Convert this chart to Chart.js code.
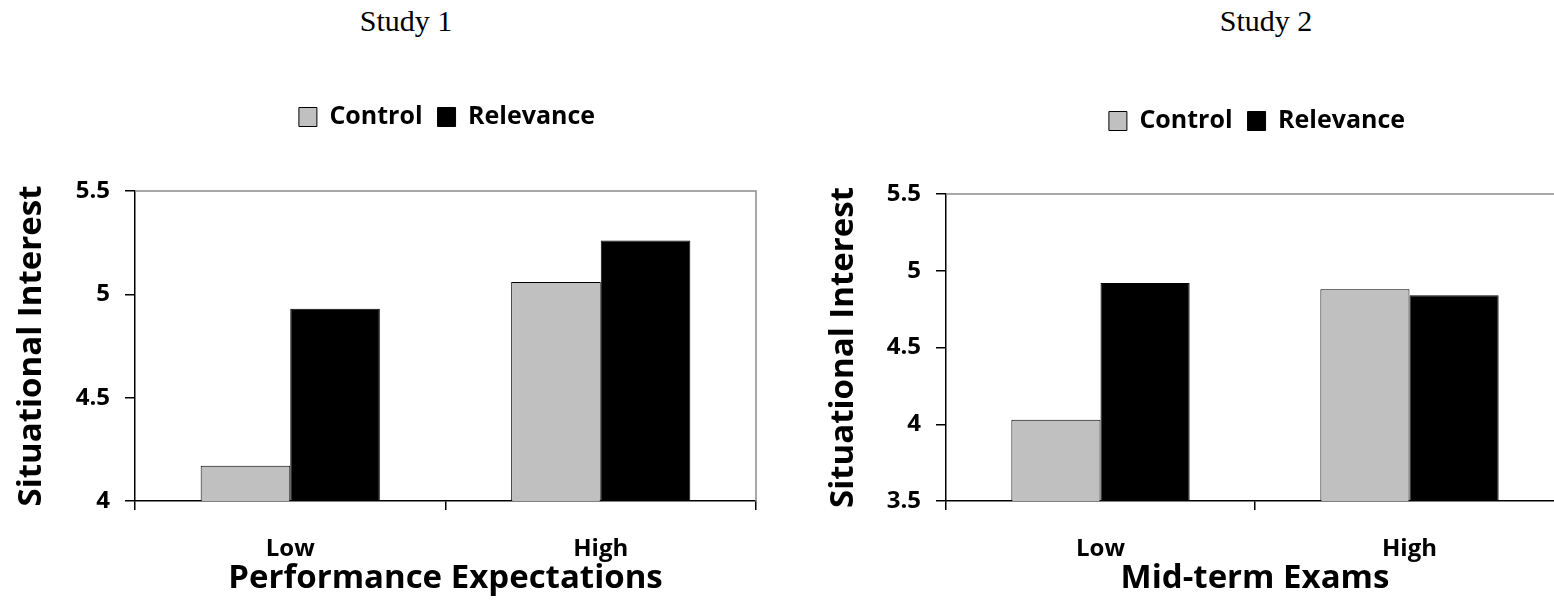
<!DOCTYPE html>
<html>
<head>
<meta charset="utf-8">
<script src="https://cdn.jsdelivr.net/npm/chart.js@4/dist/chart.umd.min.js"></script>
<style>
    html, body { margin: 0; padding: 0; background: #fff; overflow: hidden; width: 1554px; height: 606px; }
    .heading { position: absolute; top: 4px; font-family: "Liberation Serif", serif; font-size: 30px; color: #000; transform: translateX(-50%); white-space: nowrap; }
    .box { position: absolute; top: 0; height: 606px; }
</style>
</head>
<body>
<div class="heading" style="left:406px">Study 1</div>
<div class="heading" style="left:1266px">Study 2</div>
<div class="box" style="left:0; width:780px"><canvas id="chart1"></canvas></div>
<div class="box" style="left:780px; width:786px"><canvas id="chart2"></canvas></div>
<script>
// groups on the x axis
const categories = ['Low', 'High'];
const seriesNames = ['Control', 'Relevance'];

// Study 1 - performance expectations
const study1Control = [4.17, 5.06];
const study1Relevance = [4.93, 5.26];
const study1YRange = [4, 5.5];

// Study 2 - mid-term exams
const study2Control = [4.03, 4.88];
const study2Relevance = [4.92, 4.84];
const study2YRange = [3.5, 5.5];

const yStep = 0.5;

const FONT = '"Open Sans", "Liberation Sans", sans-serif';

// moves the legend to a fixed spot after layout
const legendSpot = {
    id: 'legendSpot',
    afterLayout(chart, args, opts) {
        let lg = chart.legend;
        if (!lg) return;
        let w = lg.right - lg.left;
        let h = lg.bottom - lg.top;
        let pad = chart.options.plugins.legend.labels.padding;
        let itemH = chart.options.plugins.legend.labels.font.size;
        lg.left = opts.cx - w / 2;
        lg.right = lg.left + w;
        lg.top = opts.cy - pad - itemH / 2;
        lg.bottom = lg.top + h;
    }
};

// gray frame on top and right of the plot area
const plotFrame = {
    id: 'plotFrame',
    beforeDatasetsDraw(chart) {
        let a = chart.chartArea;
        let ctx = chart.ctx;
        ctx.save();
        ctx.strokeStyle = '#8c8c8c';
        ctx.lineWidth = 1.5;
        ctx.beginPath();
        ctx.moveTo(a.left, a.top);
        ctx.lineTo(a.right, a.top);
        ctx.lineTo(a.right, a.bottom);
        ctx.stroke();
        ctx.restore();
    }
};

function getChartJs(control, relevance, yRange, xTitle, s) {
    return {
        type: 'bar',
        data: {
            labels: categories,
            datasets: [{
                label: seriesNames[0],
                data: control,
                backgroundColor: '#c0c0c0',
                borderColor: '#000',
                borderWidth: 1
            }, {
                label: seriesNames[1],
                data: relevance,
                backgroundColor: '#000',
                borderColor: '#000',
                borderWidth: 1
            }]
        },
        options: {
            responsive: false,
            animation: false,
            events: [],
            layout: { padding: { top: s.top, right: s.right, left: 0, bottom: 0 } },
            datasets: { bar: { categoryPercentage: 0.577, barPercentage: 1.0 } },
            plugins: {
                legend: {
                    position: 'top',
                    labels: {
                        boxWidth: 18,
                        boxHeight: 19,
                        padding: 15,
                        color: '#000',
                        font: { family: FONT, size: 25, weight: 'bold' }
                    }
                },
                tooltip: { enabled: false },
                legendSpot: { cx: s.legendX, cy: s.legendY }
            },
            scales: {
                x: {
                    afterFit: function (scale) { scale.height = 105; },
                    grid: { offset: true, drawOnChartArea: false, drawTicks: true, tickLength: 9, color: '#000', lineWidth: 1.5 },
                    border: { display: true, color: '#000', width: 1.5 },
                    ticks: { color: '#000', padding: 25, font: { family: FONT, size: 24, weight: 'bold' } },
                    title: {
                        display: true,
                        text: xTitle,
                        color: '#000',
                        padding: { top: 0, bottom: 8 },
                        font: { family: FONT, size: 33, weight: 'bold' }
                    }
                },
                y: {
                    min: yRange[0],
                    max: yRange[1],
                    afterFit: function (scale) { scale.width = s.yWidth; },
                    grid: { drawOnChartArea: false, drawTicks: true, tickLength: 10, color: '#000', lineWidth: 1.5 },
                    border: { display: true, color: '#000', width: 1.5 },
                    ticks: {
                        stepSize: yStep,
                        color: '#000',
                        padding: 15,
                        font: { family: FONT, size: 24, weight: 'bold' },
                        callback: function (value) { return String(Math.round(value * 10) / 10); }
                    },
                    title: {
                        display: true,
                        text: 'Situational Interest',
                        color: '#000',
                        padding: { top: s.titlePad, bottom: 0 },
                        font: { family: FONT, size: 33, weight: 'bold' }
                    }
                }
            }
        },
        plugins: [legendSpot, plotFrame]
    };
}

function makeCanvas(id, w) {
    let c = document.getElementById(id);
    c.width = w;
    c.height = 606;
    c.style.width = w + 'px';
    c.style.height = '606px';
    return c;
}

new Chart(makeCanvas('chart1', 780).getContext('2d'),
    getChartJs(study1Control, study1Relevance, study1YRange, 'Performance Expectations',
        { top: 141, right: 24, yWidth: 135, titlePad: 12, legendX: 447, legendY: 117 }));

new Chart(makeCanvas('chart2', 786).getContext('2d'),
    getChartJs(study2Control, study2Relevance, study2YRange, 'Mid-term Exams',
        { top: 144, right: 2, yWidth: 166, titlePad: 44, legendX: 477, legendY: 121 }));
</script>
</body>
</html>
